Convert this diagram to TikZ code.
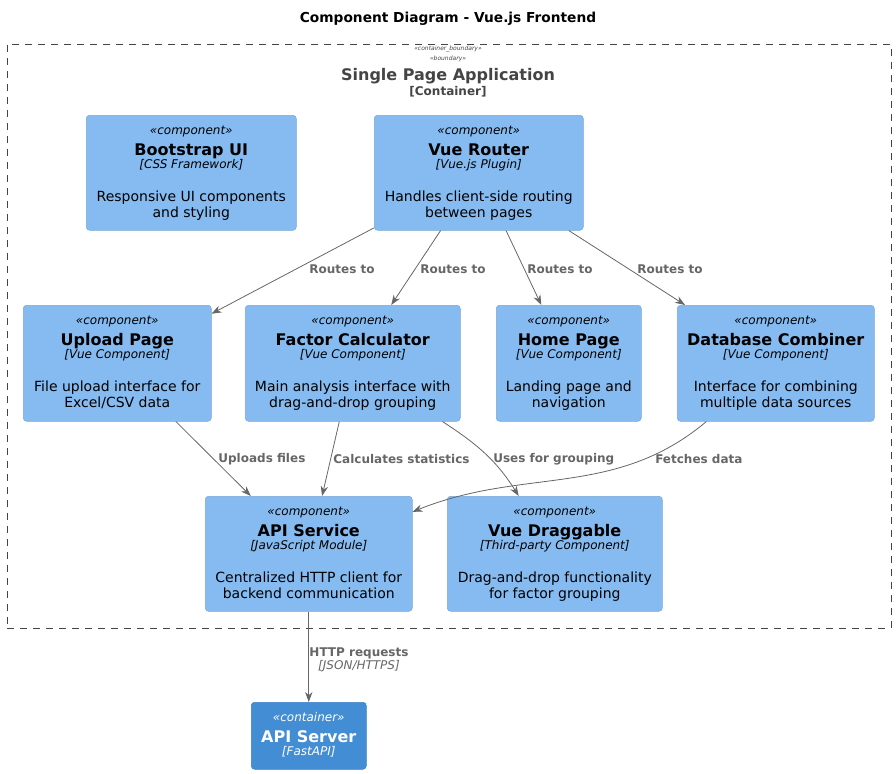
\documentclass[tikz,border=0pt]{standalone}
\usepackage{fontspec}
\setmainfont{DejaVu Sans}
\usetikzlibrary{arrows.meta,calc}
\definecolor{compfill}{HTML}{85BBF0}
\definecolor{compline}{HTML}{78A8D8}
\definecolor{contfill}{HTML}{438DD5}
\definecolor{contline}{HTML}{3C7FC0}
\definecolor{bndline}{HTML}{444444}
\definecolor{relcol}{HTML}{666666}
\tikzset{
  compbox/.style={draw=compline, fill=compfill, rounded corners=2.5pt, line width=0.4pt, anchor=north west, inner sep=0pt},
  contbox/.style={draw=contline, fill=contfill, rounded corners=2.5pt, line width=0.4pt, anchor=north west, inner sep=0pt},
  txt/.style={anchor=base, inner sep=0pt, align=center},
  stereo/.style={txt, font=\fontsize{9}{10}\selectfont\itshape},
  cname/.style={txt, font=\fontsize{12}{14}\selectfont\bfseries},
  tech/.style={txt, font=\fontsize{9}{10}\selectfont\itshape},
  desc/.style={txt, font=\fontsize{10.5}{12}\selectfont},
  rel/.style={draw=relcol, line width=0.6pt, -{Stealth[length=7.5pt,width=5.5pt]}},
  lbl/.style={anchor=west, inner sep=0pt, text=relcol, font=\fontsize{9}{10}\selectfont\bfseries},
}
\newcommand\comp[9]{%
  \node[compbox, minimum width=#4*0.75pt, minimum height=#5*0.75pt] (#1) at (#2,-#3) {};
  \node[stereo] (#1-s) at ($(#1.north)+(0,-19)$) {«component»};
  \node[cname] (#1-n) at ($(#1.north)+(0,-40)$) {#6};
  \node[tech] (#1-t) at ($(#1.north)+(0,-53.5)$) {#7};
  \node[desc] (#1-d1) at ($(#1.north)+(0,-86)$) {#8};
  \node[desc] (#1-d2) at ($(#1.north)+(0,-102)$) {#9};
}
\begin{document}
\begin{tikzpicture}[x=0.75pt,y=0.75pt]
\useasboundingbox (0,0) rectangle (896,-774);
% title
\node[anchor=base, inner sep=0pt, font=\fontsize{10.3}{12}\selectfont\bfseries] (title) at (448,-23) {Component Diagram - Vue.js Frontend};
% boundary
\node[draw=bndline, dash pattern=on 5.25pt off 4.5pt, line width=0.6pt, minimum width=884*0.75pt, minimum height=584*0.75pt, anchor=north west, inner sep=0pt] (spa) at (7,-44) {};
\node[anchor=base, inner sep=0pt, text=bndline, font=\fontsize{4.5}{5}\selectfont\itshape] (spa-s1) at (448,-51) {«container\_boundary»};
\node[anchor=base, inner sep=0pt, text=bndline, font=\fontsize{4.5}{5}\selectfont\itshape] (spa-s2) at (448,-61) {«boundary»};
\node[anchor=base, inner sep=0pt, text=bndline, font=\fontsize{12}{14}\selectfont\bfseries] (spa-n) at (448,-81) {Single Page Application};
\node[anchor=base, inner sep=0pt, text=bndline, font=\fontsize{9}{10}\selectfont\bfseries] (spa-t) at (448,-95) {[Container]};
% components
\comp{bs}{86}{115}{210}{115}{Bootstrap UI}{[CSS Framework]}{Responsive UI components}{and styling}
\comp{vr}{374}{115}{209}{115}{Vue Router}{[Vue.js Plugin]}{Handles client-side routing}{between pages}
\comp{up}{23}{305}{188}{116}{Upload Page}{[Vue Component]}{File upload interface for}{Excel/CSV data}
\comp{fc}{245}{305}{215}{116}{Factor Calculator}{[Vue Component]}{Main analysis interface with}{drag-and-drop grouping}
\comp{hp}{496}{305}{145}{116}{Home Page}{[Vue Component]}{Landing page and}{navigation}
\comp{dc}{677}{305}{197}{116}{Database Combiner}{[Vue Component]}{Interface for combining}{multiple data sources}
\comp{as}{205}{496}{207}{115}{API Service}{[JavaScript Module]}{Centralized HTTP client for}{backend communication}
\comp{vd}{447}{496}{215}{115}{Vue Draggable}{[Third-party Component]}{Drag-and-drop functionality}{for factor grouping}
% container
\node[contbox, minimum width=115*0.75pt, minimum height=67*0.75pt] (srv) at (251,-702) {};
\node[stereo, text=white] (srv-s) at ($(srv.north)+(0,-19)$) {«container»};
\node[cname, text=white] (srv-n) at ($(srv.north)+(0,-40)$) {API Server};
\node[tech, text=white] (srv-t) at ($(srv.north)+(0,-53.5)$) {[FastAPI]};
% relations
\draw[rel] (vr) -- (up) node[lbl, at={(309,-269)}] (l1) {Routes to};
\draw[rel] (vr) -- (fc) node[lbl, at={(420,-269)}] (l2) {Routes to};
\draw[rel] (vr) -- (hp) node[lbl, at={(527,-269)}] (l3) {Routes to};
\draw[rel] (vr) -- (dc) node[lbl, at={(637,-269)}] (l4) {Routes to};
\draw[rel] (up) -- (as) node[lbl, at={(218,-459)}] (l5) {Uploads files};
\draw[rel] (fc) -- (as) node[lbl, at={(333,-459)}] (l6) {Calculates statistics};
\draw[rel] (fc) to[out=-33, in=122] (vd);
\node[lbl] (l7) at (493,-459) {Uses for grouping};
\draw[rel] (dc) to[out=220, in=22] (as);
\node[lbl] (l8) at (655,-459) {Fetches data};
\draw[rel] (as) -- (srv);
\node[anchor=base, inner sep=0pt, text=relcol, font=\fontsize{9}{10}\selectfont\bfseries] (l9) at (359,-656) {HTTP requests};
\node[anchor=base, inner sep=0pt, text=relcol, font=\fontsize{9}{10}\selectfont\itshape] (l9t) at (359,-669) {[JSON/HTTPS]};
\end{tikzpicture}
\end{document}
